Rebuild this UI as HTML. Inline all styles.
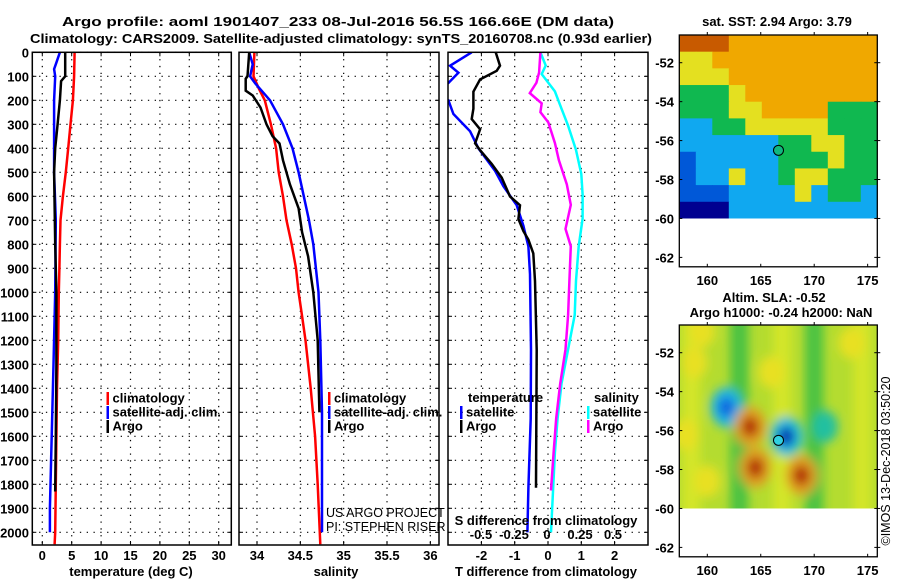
<!DOCTYPE html>
<html><head><meta charset="utf-8"><style>
html,body{margin:0;padding:0;background:#fff;}
svg{display:block;font-family:"Liberation Sans",sans-serif;}
.b{font-weight:bold;font-size:13px;}
</style></head><body>
<svg id="fig" width="900" height="580" viewBox="0 0 900 580" xmlns="http://www.w3.org/2000/svg">
<text class="b" x="338" y="26" text-anchor="middle" font-size="14" textLength="552" lengthAdjust="spacingAndGlyphs">Argo profile: aoml 1901407_233 08-Jul-2016 56.5S 166.66E (DM data)</text>
<text class="b" x="341" y="43" text-anchor="middle" font-size="14" textLength="622" lengthAdjust="spacingAndGlyphs">Climatology: CARS2009. Satellite-adjusted climatology: synTS_20160708.nc (0.93d earlier)</text>
<g id="g"></g>
</svg>
<script>
// ---------- data ----------
var depthTicks=[0,100,200,300,400,500,600,700,800,900,1000,1100,1200,1300,1400,1500,1600,1700,1800,1900,2000];
var tempTicks=[0,5,10,15,20,25,30];
var salTicks=[34,34.5,35,35.5,36];
var salTickLabels=["34","34.5","35","35.5","36"];
var dtTicks=[-2,-1,0,1,2];
var dsTicks=[-0.5,-0.25,0,0.25,0.5];
var dsTickLabels=["-0.5","-0.25","0","0.25","0.5"];

var tClimDepth=[0,100,200,300,400,500,600,700,800,900,1000,1200,1400,1600,1800,2000,2050];
var tClimVal=[5.5,5.4,5.2,4.8,4.4,4.0,3.5,3.1,3.0,2.9,2.8,2.7,2.5,2.4,2.3,2.2,2.1];
var tSatDepth=[0,50,70,100,200,500,700,1000,1300,1500,1700,1900,2000];
var tSatVal=[3.0,2.3,2.0,2.2,2.0,2.0,2.3,2.2,1.9,1.7,1.5,1.3,1.3];
var tArgoDepth=[0,100,120,200,300,400,500,800,1000,1300,1600,1830];
var tArgoVal=[3.9,3.9,3.2,3.0,2.6,2.2,2.0,2.2,2.4,2.4,2.3,2.2];

var sClimDepth=[0,100,150,200,300,400,500,600,700,800,900,1000,1100,1200,1400,1600,1800,2050];
var sClimVal=[33.97,33.96,34.02,34.09,34.16,34.22,34.25,34.30,34.34,34.40,34.45,34.48,34.52,34.56,34.62,34.67,34.70,34.73];
var sSatDepth=[0,50,100,130,200,300,400,500,600,700,800,900,1000,1200,1500,2000];
var sSatVal=[33.91,33.95,33.92,33.98,34.15,34.30,34.41,34.48,34.54,34.60,34.65,34.68,34.71,34.73,34.75,34.75];
var sArgoDepth=[0,100,110,160,180,230,300,350,380,450,550,650,750,850,1000,1200,1500];
var sArgoVal=[33.91,33.89,33.87,33.87,33.95,34.04,34.11,34.18,34.26,34.30,34.38,34.48,34.52,34.59,34.65,34.70,34.72];

var dtSatDepth=[0,56,85,128,150,180,200,257,329,400,494,558,637,723,809,924,1240,1527,1814,2000];
var dtSatVal=[-2.29,-2.94,-2.69,-2.99,-3.3,-3.3,-2.99,-2.84,-2.34,-2.09,-1.59,-1.34,-0.94,-0.74,-0.59,-0.54,-0.51,-0.52,-0.59,-0.62];
var dtArgoDepth=[0,56,77,113,164,235,278,321,379,408,465,522,601,637,694,745,781,838,953,1240,1814];
var dtArgoVal=[-1.57,-1.44,-1.54,-2.04,-2.24,-2.24,-2.29,-2.04,-2.19,-2.04,-1.69,-1.39,-1.14,-0.84,-0.89,-0.74,-0.59,-0.44,-0.39,-0.34,-0.36];
var dsSatDepth=[0,55,91,163,235,306,407,507,593,693,808,952,1095,1238,1381,1525,1668,2000];
var dsSatVal=[-0.05,-0.01,-0.04,0.06,0.11,0.16,0.22,0.26,0.27,0.27,0.24,0.22,0.21,0.16,0.11,0.08,0.06,0.03];
var dsArgoDepth=[0,84,127,170,213,249,292,378,450,550,636,736,808,952,1095,1238,1381,1525,1668,1826];
var dsArgoVal=[-0.05,-0.06,-0.08,-0.13,-0.04,-0.05,0.01,0.06,0.09,0.15,0.18,0.14,0.18,0.17,0.16,0.14,0.10,0.07,0.05,0.03];

var latTicks=[-52,-54,-56,-58,-60,-62];
var lonTicks=[160,165,170,175];
var sstRows=["RRROOOOOOOOO","YYOOOOOOOOOO","YYYOOOOOOOOO","GGGYOOOOOOOO","GGGYYOOOOGGG","LLGGYYYYYGGG","LLLLLLGGYYGG","NLLLLLGGGYGG","NLLYLLGYYGGG","NNNLLLLYLGGL","DDDLLLLLLLLL"];
var slaBlobLon=[159.5,158.0,161.8,164.0,164.5,168.8,167.4,160.0,171.0,173.5,166.0,158.8];
var slaBlobLat=[-50.9,-56.2,-54.8,-55.8,-57.9,-58.3,-56.3,-58.6,-55.8,-51.5,-53.0,-52.5];
var slaBlobVal=[1,1,-2,3,3,3,-3,1,-1,1,1,1];
var argoLon=166.66, argoLat=-56.5;

// ---------- helpers ----------
var NS="http://www.w3.org/2000/svg";
var G=document.getElementById('g');
function mk(tag,attrs,parent){var e=document.createElementNS(NS,tag);for(var k in attrs)e.setAttribute(k,attrs[k]);(parent||G).appendChild(e);return e;}
function txt(x,y,s,anchor,cls,parent){var t=mk('text',{x:x,y:y,'text-anchor':anchor||'middle','class':cls||'b'},parent);t.textContent=s;return t;}

var TOP=52.3,BOT=545;
function yD(d){return TOP+d*0.24;}
function xT(t){return 42.3+t*5.88;}
function xS(s){return 257+(s-34)*86.67;}
function xDT(t){return 548+t*33.3;}
function xDS(s){return 547+s*132;}

var panels=[{x0:32.3,x1:231.3,name:'temperature-panel'},{x0:239,x1:439,name:'salinity-panel'},{x0:448,x1:648,name:'difference-panel'}];
var clipDefs=mk('defs',{});
panels.forEach(function(p,i){
  var cp=mk('clipPath',{id:'cp'+i},clipDefs);
  mk('rect',{x:p.x0,y:TOP,width:p.x1-p.x0,height:BOT-TOP},cp);
  var g=mk('g',{});
  
  
  p.g=g;
  depthTicks.forEach(function(d){
    var l=mk('line',{x1:p.x0,x2:p.x1,y1:yD(d),y2:yD(d),stroke:'#000','stroke-width':1.2,'stroke-dasharray':'1.3,5.5'},g);
    
    
    mk('line',{x1:p.x0,x2:p.x0+4,y1:yD(d),y2:yD(d),stroke:'#000'},g);
    mk('line',{x1:p.x1-4,x2:p.x1,y1:yD(d),y2:yD(d),stroke:'#000'},g);
  });
});
function vgrid(p,xs){xs.forEach(function(x){
  var l=mk('line',{x1:x,x2:x,y1:TOP,y2:BOT,stroke:'#000','stroke-width':1.2,'stroke-dasharray':'1.3,5.5'},p.g);
  
  
  mk('line',{x1:x,x2:x,y1:BOT-4,y2:BOT,stroke:'#000'},p.g);
  mk('line',{x1:x,x2:x,y1:TOP,y2:TOP+4,stroke:'#000'},p.g);
});}
vgrid(panels[0],tempTicks.map(xT));
vgrid(panels[1],salTicks.map(xS));
vgrid(panels[2],dtTicks.map(xDT));

depthTicks.forEach(function(d){
  var t=txt(29,yD(d)+5,String(d),'end');
  
  
});
tempTicks.forEach(function(v){var t=txt(xT(v),560,String(v));
  
  });
salTicks.forEach(function(v,i){var t=txt(xS(v),560,salTickLabels[i]);
  
  });
dtTicks.forEach(function(v){var t=txt(xDT(v),560,String(v));
  
  });
dsTicks.forEach(function(v,i){var t=txt(xDS(v),539,dsTickLabels[i]);
  
  });
var a1=txt(131,576,'temperature (deg C)');


var a2=txt(336,576,'salinity');


var a3=txt(546,576,'T difference from climatology');


var a4=txt(546,525,'S difference from climatology');



function series(pi,depths,vals,xf,color,name){
  var pts=depths.map(function(d,i){return xf(vals[i]).toFixed(1)+','+yD(d).toFixed(1);}).join(' ');
  var pl=mk('polyline',{points:pts,fill:'none',stroke:color,'stroke-width':2.5,'clip-path':'url(#cp'+pi+')'},panels[pi].g);
  
  
}
series(0,tClimDepth,tClimVal,xT,'#f00','temperature-climatology-line');
series(0,tSatDepth,tSatVal,xT,'#00f','temperature-satellite-line');
series(0,tArgoDepth,tArgoVal,xT,'#000','temperature-argo-line');
series(1,sClimDepth,sClimVal,xS,'#f00','salinity-climatology-line');
series(1,sSatDepth,sSatVal,xS,'#00f','salinity-satellite-line');
series(1,sArgoDepth,sArgoVal,xS,'#000','salinity-argo-line');
series(2,dsSatDepth,dsSatVal,xDS,'#0ff','s-diff-satellite-line');
series(2,dsArgoDepth,dsArgoVal,xDS,'#f0f','s-diff-argo-line');
series(2,dtSatDepth,dtSatVal,xDT,'#00f','t-diff-satellite-line');
series(2,dtArgoDepth,dtArgoVal,xDT,'#000','t-diff-argo-line');

panels.forEach(function(p){mk('rect',{x:p.x0,y:TOP,width:p.x1-p.x0,height:BOT-TOP,fill:'none',stroke:'#000','stroke-width':1.5},p.g);});

function leg(x,y,color,label,name){
  var g=mk('g',{});
  
  
  mk('rect',{x:x,y:y-6,width:2.5,height:13,fill:color},g);
  txt(x+6,y+4.5,label,'start','b',g);
}
leg(106.5,398,'#f00','climatology','legend-climatology');
leg(106.5,412,'#00f','satellite-adj. clim.','legend-satellite-adj');
leg(106.5,426,'#000','Argo','legend-argo');
leg(328,398,'#f00','climatology','legend-sal-climatology');
leg(328,412,'#00f','satellite-adj. clim.','legend-sal-satellite-adj');
leg(328,426,'#000','Argo','legend-sal-argo');
var lt=txt(468,402,'temperature','start');


leg(460,412,'#00f','satellite','legend-t-satellite');
leg(460,426,'#000','Argo','legend-t-argo');
var ls=txt(594,402,'salinity','start');


leg(587,412,'#0ff','satellite','legend-s-satellite');
leg(587,426,'#f0f','Argo','legend-s-argo');
var c1=mk('text',{x:326,y:517,'font-size':12.5,'text-anchor':'start'});
c1.textContent='US ARGO PROJECT';


var c2=mk('text',{x:326,y:531,'font-size':12.5,'text-anchor':'start'});
c2.textContent='PI: STEPHEN RISER';



// ---------- maps ----------
var MX0=679.3,MX1=877.3;
function mlon(l){return 707.3+(l-160)*10.69;}
function mapAxes(top,latTopY,name){
  function mlat(la){return latTopY+(-52-la)*19.47;}
  var g=mk('g',{});
  
  
  return {g:g,mlat:mlat,top:top,bot:mlat(-62)+9.4};
}
var M1=mapAxes(35,62.7,'sst-map');
var M2=mapAxes(325,352.7,'sla-map');
var cp1=mk('clipPath',{id:'mc1'},clipDefs);mk('rect',{x:MX0,y:M1.top,width:MX1-MX0,height:M1.mlat(-60)-M1.top},cp1);
var cp2=mk('clipPath',{id:'mc2'},clipDefs);mk('rect',{x:MX0,y:M2.top,width:MX1-MX0,height:M2.mlat(-60)-M2.top},cp2);

var sstColor={R:'#c85a00',O:'#f0a800',Y:'#e4e020',G:'#10b850',L:'#10a8f0',N:'#0058d8',D:'#000090'};
var sg=mk('g',{'clip-path':'url(#mc1)'},M1.g);
var cw=(MX1-MX0)/12, ch=(M1.mlat(-60)-M1.top)/11;
sstRows.forEach(function(row,r){for(var c=0;c<row.length;c++){
  var rc=mk('rect',{x:MX0+c*cw,y:M1.top+r*ch,width:cw+0.5,height:ch+0.5,fill:sstColor[row[c]]},sg);
  
  
}});

var filt=mk('filter',{id:'blur',x:'-50%',y:'-50%',width:'200%',height:'200%'},clipDefs);
mk('feGaussianBlur',{stdDeviation:5},filt);
var lg=mk('g',{'clip-path':'url(#mc2)'},M2.g);
mk('rect',{x:MX0,y:M2.top,width:MX1-MX0,height:M2.mlat(-60)-M2.top,fill:'#b4dc30'},lg);
var bg=mk('g',{filter:'url(#blur)'},lg);
[158.5,163,167,170,174.5].forEach(function(l,i){mk('rect',{x:mlon(l)-9,y:M2.top-10,width:18,height:210,fill:i%2?'#30bc48':'#dce828',opacity:0.8},bg);});
var slaCols={'3':['#e0a020','#b02000'],'1':['#e8e020','#f0c020'],'-1':['#20c0a0','#18a8b0'],'-2':['#20b8e0','#1060e0'],'-3':['#20c0e0','#0020b0']};
slaBlobLon.forEach(function(l,i){
  var c=slaCols[String(slaBlobVal[i])];
  var big=Math.abs(slaBlobVal[i])>=2;
  var e1=mk('ellipse',{cx:mlon(l),cy:M2.mlat(slaBlobLat[i]),rx:big?16:13,ry:big?20:16,fill:c[0]},bg);
  
  
  if(big){mk('ellipse',{cx:mlon(l),cy:M2.mlat(slaBlobLat[i]),rx:8,ry:10,fill:c[1]},bg);}
});

[[M1,'#10b880'],[M2,'#30d0e0']].forEach(function(mm){
  var M=mm[0];
  var ci=mk('circle',{cx:mlon(argoLon),cy:M.mlat(argoLat),r:5,fill:mm[1],stroke:'#000','stroke-width':1},M.g);
  
  
  mk('rect',{x:MX0,y:M.top,width:MX1-MX0,height:M.bot-M.top,fill:'none',stroke:'#000','stroke-width':1.3},M.g);
  latTicks.forEach(function(la){
    var y=M.mlat(la);
    mk('line',{x1:MX0,x2:MX0+3,y1:y,y2:y,stroke:'#000'},M.g);
    mk('line',{x1:MX1-3,x2:MX1+3,y1:y,y2:y,stroke:'#000'},M.g);
    var t=txt(674,y+5,String(la),'end','b',M.g);
    
    
  });
  lonTicks.forEach(function(lo){
    var x=mlon(lo);
    mk('line',{x1:x,x2:x,y1:M.bot-3,y2:M.bot,stroke:'#000'},M.g);
    mk('line',{x1:x,x2:x,y1:M.top-3,y2:M.top,stroke:'#000'},M.g);
    var t=txt(x,M.bot+18,String(lo),'middle','b',M.g);
    
    
  });
});
var mt1=txt(777,26,'sat. SST: 2.94 Argo: 3.79');


var mt2=txt(774,302,'Altim. SLA: -0.52');


var mt3=txt(781,317,'Argo h1000: -0.24 h2000: NaN');


var im=mk('text',{x:0,y:0,'font-size':12.5,transform:'translate(890,461) rotate(-90)','text-anchor':'middle'});
im.textContent='©IMOS 13-Dec-2018 03:50:20';


</script>
</body></html>
